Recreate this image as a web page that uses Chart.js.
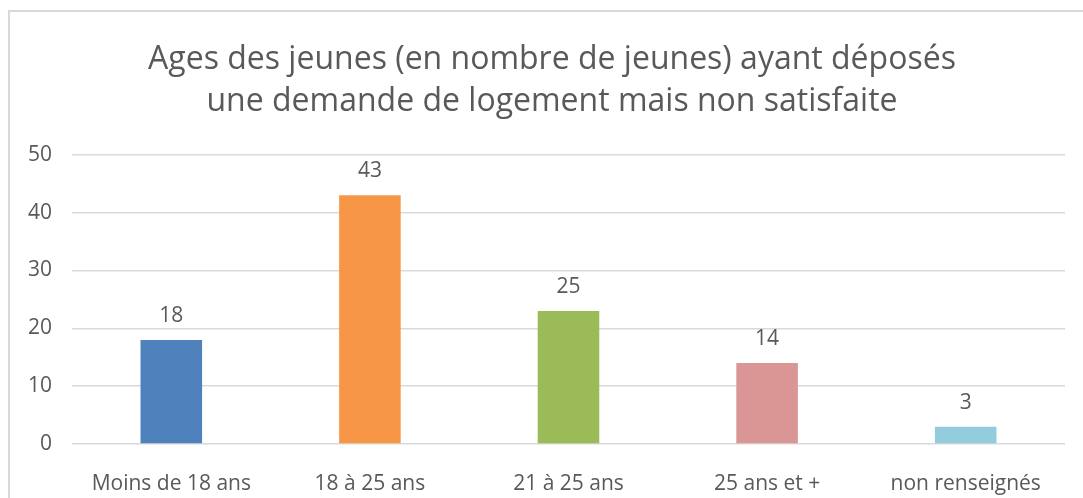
<!DOCTYPE html>
<html>
<head>
<meta charset="utf-8">
<script src="https://cdn.jsdelivr.net/npm/chart.js@4"></script>
<style>
  body { margin: 0; background: #fff; overflow: hidden; }
  #frame { position: absolute; left: 8px; top: 10px; width: 1200px; height: 600px;
           border-left: 2px solid #d9d9d9; border-top: 2px solid #d9d9d9; }
  canvas { position: absolute; left: 0; top: 0; }
</style>
</head>
<body>
<div id="frame"></div>
<canvas id="chart" width="1083" height="498"></canvas>
<script>
const titleLines = ["Ages des jeunes (en nombre de jeunes) ayant déposés", "une demande de logement mais non satisfaite"];
const categories = ["Moins de 18 ans", "18 à 25 ans", "21 à 25 ans", "25 ans et +", "non renseignés"];
const values = [18, 43, 23, 14, 3];
const valueLabels = ["18", "43", "25", "14", "3"];
const barColors = ["#4f81bd", "#f79646", "#9bbb59", "#d99694", "#93cddd"];

const textColor = "#595959";
const fontFamily = "'Open Sans', sans-serif";

// draw the value text above each bar
const barLabels = {
  id: "barLabels",
  afterDatasetsDraw(chart) {
    const ctx = chart.ctx;
    const meta = chart.getDatasetMeta(0);
    ctx.save();
    ctx.fillStyle = textColor;
    ctx.font = "21px " + fontFamily;
    ctx.textAlign = "center";
    ctx.textBaseline = "middle";
    meta.data.forEach((bar, i) => {
      ctx.fillText(valueLabels[i], bar.x, bar.y - 24);
    });
    ctx.restore();
  }
};

// the title sits a bit right of the canvas centre
const titleShift = {
  id: "titleShift",
  afterLayout(chart) {
    if (chart.titleBlock) chart.titleBlock.left += 39;
  }
};

new Chart(document.getElementById("chart"), {
  type: "bar",
  data: {
    labels: categories,
    datasets: [{
      data: values,
      backgroundColor: barColors,
      barPercentage: 0.62,
      categoryPercentage: 0.5
    }]
  },
  options: {
    responsive: false,
    animation: false,
    layout: { padding: { left: 0, right: 18, top: 0, bottom: 0 } },
    plugins: {
      legend: { display: false },
      tooltip: { enabled: false },
      title: {
        display: true,
        text: titleLines,
        color: textColor,
        font: { family: fontFamily, size: 32, weight: "normal", lineHeight: 1.31 },
        padding: { top: 39, bottom: 32 }
      }
    },
    scales: {
      x: {
        grid: { display: false },
        border: { display: false },
        ticks: { color: textColor, font: { family: fontFamily, size: 21 }, padding: 19, maxRotation: 0 },
        afterFit(axis) { axis.height = 54; }
      },
      y: {
        min: 0,
        max: 50,
        ticks: { stepSize: 10, color: textColor, font: { family: fontFamily, size: 21 }, padding: 20 },
        grid: { color: "#d9d9d9", lineWidth: 1.5, drawTicks: false },
        border: { display: false },
        afterFit(axis) { axis.width = 72; }
      }
    }
  },
  plugins: [barLabels, titleShift]
});
</script>
</body>
</html>
